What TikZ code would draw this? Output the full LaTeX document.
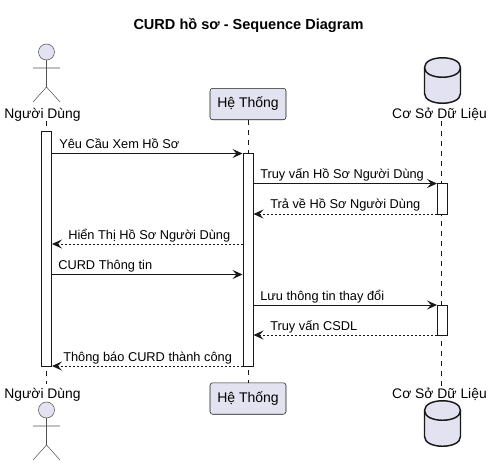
\documentclass[tikz,border=0pt]{standalone}
\usepackage{fontspec}
\setmainfont{Liberation Sans}
\usetikzlibrary{arrows.meta}
\definecolor{pfill}{HTML}{E2E2F0}
\definecolor{pline}{HTML}{181818}
\tikzset{
  lifeline/.style={draw=pline,line width=0.38pt,dash pattern=on 3.75pt off 3.75pt},
  actbox/.style={draw=pline,fill=white,line width=0.75pt,minimum width=7.5pt,inner sep=0pt},
  partbox/.style={draw=pline,fill=pfill,line width=0.4pt,rounded corners=2pt,minimum width=57pt,minimum height=23.6pt,inner sep=0pt,font=\fontsize{10.5pt}{12pt}\selectfont},
  partlabel/.style={inner sep=0pt,anchor=base,font=\fontsize{10.4pt}{12pt}\selectfont},
  msglabel/.style={inner sep=0pt,anchor=base west,font=\fontsize{9.6pt}{12pt}\selectfont,text=black},
  msg/.style={draw=pline,line width=0.75pt,-{Stealth[length=7.5pt,width=6.8pt,inset=3pt]}},
  reply/.style={msg,dash pattern=on 1.5pt off 1.5pt},
  actorline/.style={draw=pline!75,line width=0.4pt},
  dbline/.style={draw=pline,line width=1.1pt,fill=pfill},
  dbrim/.style={draw=pline,line width=1.1pt},
}
\newcommand{\actorfig}[2]{%
  \draw[actorline,fill=pfill] (#1,#2) circle (8);
  \draw[actorline] (#1,#2+8) -- (#1,#2+35) (#1-13.5,#2+16) -- (#1+13.5,#2+16)
    (#1-13.5,#2+50) -- (#1,#2+35) -- (#1+13.5,#2+50);
}
\newcommand{\dbfig}[2]{%
  \draw[dbline] (#1-18,#2+10) .. controls (#1-18,#2-3) and (#1+18,#2-3) .. (#1+18,#2+10)
    -- (#1+18,#2+36) .. controls (#1+18,#2+49) and (#1-18,#2+49) .. (#1-18,#2+36) -- cycle;
  \draw[dbrim] (#1-18,#2+10) .. controls (#1-18,#2+23) and (#1+18,#2+23) .. (#1+18,#2+10);
}
\begin{document}
\begin{tikzpicture}[x=0.75pt,y=-0.75pt]
\useasboundingbox (0,0) rectangle (492,465);
\node[inner sep=0pt,anchor=base,font=\bfseries\fontsize{10.9pt}{12pt}\selectfont] (title) at (248.5,29.5) {CURD hồ sơ - Sequence Diagram};
% lifelines
\coordinate (uT) at (46.5,121); \coordinate (uB) at (46.5,384);
\coordinate (dT) at (441.5,121); \coordinate (dB) at (441.5,386);
\node[partbox] (sT) at (248,104) {Hệ Thống};
\node[partbox] (sB) at (248,398.5) {Hệ Thống};
\draw[lifeline] (uT) -- (uB);
\draw[lifeline] (sT) -- (sB);
\draw[lifeline] (dT) -- (dB);
% actors and database
\actorfig{46.5}{52}
\actorfig{46.5}{410}
\dbfig{442.5}{57.5}
\dbfig{442.5}{400.5}
\node[partlabel] (uL1) at (42.5,118) {Người Dùng};
\node[partlabel] (uL2) at (42.5,398) {Người Dùng};
\node[partlabel] (dL1) at (439.5,118) {Cơ Sở Dữ Liệu};
\node[partlabel] (dL2) at (439.5,398) {Cơ Sở Dữ Liệu};
% activations
\node[actbox,minimum height=176.25pt] (aU) at (46.5,248.5) {};
\node[actbox,minimum height=159.75pt] (aS) at (248,259.5) {};
\node[actbox,minimum height=23.25pt] (aD1) at (442.5,198.5) {};
\node[actbox,minimum height=22.5pt] (aD2) at (442.5,320) {};
% message rows
\coordinate (r1) at (0,153.5); \coordinate (r2) at (0,183.5); \coordinate (r3) at (0,214);
\coordinate (r4) at (0,244); \coordinate (r5) at (0,274.5); \coordinate (r6) at (0,305);
\coordinate (r7) at (0,335); \coordinate (r8) at (0,366);
\draw[msg] (aU.east |- r1) -- (aS.west |- r1);
\draw[msg] (aS.east |- r2) -- (aD1.west |- r2);
\draw[reply] (aD1.west |- r3) -- (aS.east |- r3);
\draw[reply] (aS.west |- r4) -- (aU.east |- r4);
\draw[msg] (aU.east |- r5) -- (aS.west |- r5);
\draw[msg] (aS.east |- r6) -- (aD2.west |- r6);
\draw[reply] (aD2.west |- r7) -- (aS.east |- r7);
\draw[reply] (aS.west |- r8) -- (aU.east |- r8);
\node[msglabel] (l1) at (59,148) {Yêu Cầu Xem Hồ Sơ};
\node[msglabel] (l2) at (260,178) {Truy vấn Hồ Sơ Người Dùng};
\node[msglabel] (l3) at (270,208.5) {Trả về Hồ Sơ Người Dùng};
\node[msglabel] (l4) at (68,239) {Hiển Thị Hồ Sơ Người Dùng};
\node[msglabel] (l5) at (58,269) {CURD Thông tin};
\node[msglabel] (l6) at (260,300) {Lưu thông tin thay đổi};
\node[msglabel] (l7) at (270,330) {Truy vấn CSDL};
\node[msglabel] (l8) at (63,361) {Thông báo CURD thành công};
\end{tikzpicture}
\end{document}
